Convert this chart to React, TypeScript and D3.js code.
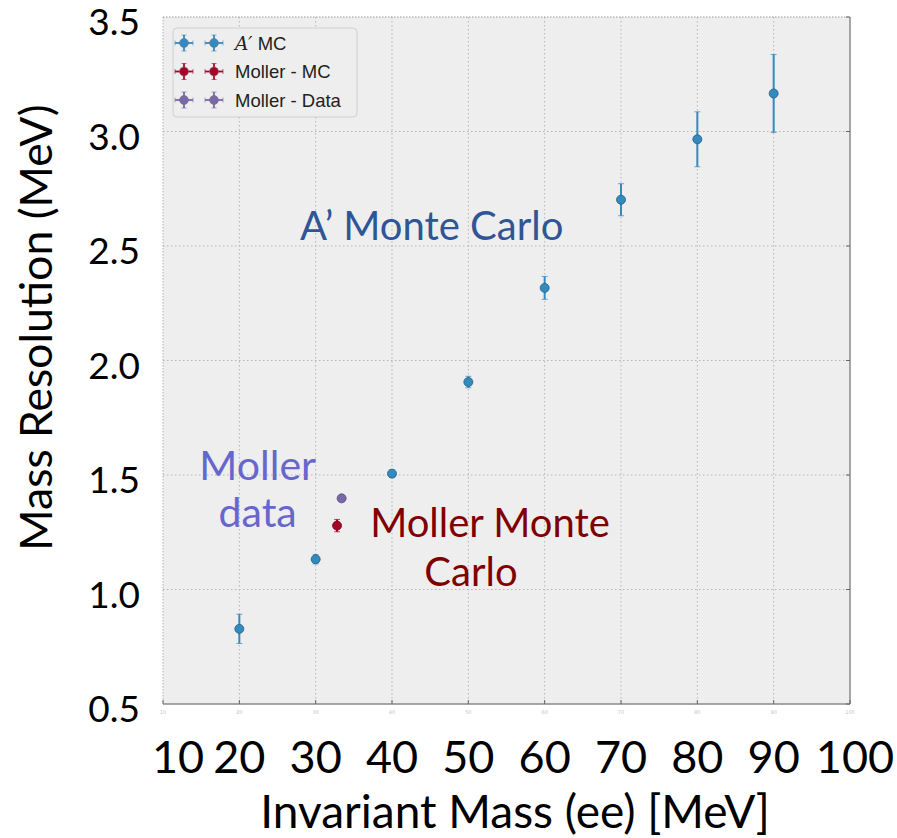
import React from 'react';
import * as d3 from 'd3';

// A' Monte Carlo points
const aMass = [20, 30, 40, 50, 60, 70, 80, 90];
const aRes = [0.828, 1.132, 1.506, 1.906, 2.317, 2.702, 2.966, 3.166];
const aErr = [0.064, 0.02, 0.016, 0.025, 0.05, 0.07, 0.12, 0.17];

// Moller
const mcMass = [32.8];
const mcRes = [1.279];
const mcErr = [0.027];
const dataMass = [33.4];
const dataRes = [1.398];
const dataErr = [0.006];

const xTicks = [10, 20, 30, 40, 50, 60, 70, 80, 90, 100];
const yTicks = [0.5, 1.0, 1.5, 2.0, 2.5, 3.0, 3.5];

const legendItems = [
  { label: 'MC', prime: true, color: '#348ABD' },
  { label: 'Moller - MC', prime: false, color: '#A60628' },
  { label: 'Moller - Data', prime: false, color: '#7A68A6' },
];

const W = 897, H = 838;
const plot = { left: 163, right: 850, top: 17, bottom: 704 };
const bigFont = "Lato, 'Open Sans', sans-serif";

export default function App() {
  const x = d3.scaleLinear().domain([10, 100]).range([plot.left, plot.right]);
  const y = d3.scaleLinear().domain([0.5, 3.5]).range([plot.bottom, plot.top]);

  const series = [
    { mass: aMass, res: aRes, err: aErr, color: '#348ABD', edge: '#1f5f88' },
    { mass: mcMass, res: mcRes, err: mcErr, color: '#A60628', edge: '#6e0419' },
    { mass: dataMass, res: dataRes, err: dataErr, color: '#7A68A6', edge: '#54477a' },
  ];

  return (
    <svg width={W} height={H} style={{ position: 'absolute', left: 0, top: 0, background: '#fff' }}>
      {/* plot background */}
      <rect x={plot.left} y={plot.top} width={plot.right - plot.left} height={plot.bottom - plot.top} fill="#eeeeee" />

      {/* grid */}
      {xTicks.slice(1, -1).map(t => (
        <line key={'gx' + t} x1={x(t)} x2={x(t)} y1={plot.top} y2={plot.bottom}
          stroke="#b5b5b5" strokeWidth={1} strokeDasharray="1.5,2.5" />
      ))}
      {yTicks.slice(1, -1).map(t => (
        <line key={'gy' + t} x1={plot.left} x2={plot.right} y1={y(t)} y2={y(t)}
          stroke="#b5b5b5" strokeWidth={1} strokeDasharray="1.5,2.5" />
      ))}

      {/* frame */}
      <line x1={plot.left} x2={plot.right} y1={plot.top} y2={plot.top} stroke="#9a9a9a" strokeWidth={1} strokeDasharray="1.5,1.5" />
      <line x1={plot.left} x2={plot.left} y1={plot.top} y2={plot.bottom} stroke="#b0b0b0" strokeWidth={1} strokeDasharray="1.5,1.5" />
      <line x1={plot.left} x2={plot.right} y1={plot.bottom} y2={plot.bottom} stroke="#8a8a8a" strokeWidth={1.5} />
      <line x1={plot.right} x2={plot.right} y1={plot.top} y2={plot.bottom} stroke="#8a8a8a" strokeWidth={1.5} />

      {/* tick marks */}
      {xTicks.map(t => (
        <line key={'tx' + t} x1={x(t)} x2={x(t)} y1={plot.bottom} y2={plot.bottom - 4} stroke="#666" strokeWidth={1} />
      ))}
      {yTicks.map(t => (
        <line key={'ty' + t} x1={plot.right} x2={plot.right - 4} y1={y(t)} y2={y(t)} stroke="#666" strokeWidth={1} />
      ))}
      {/* faint original tick labels */}
      {xTicks.map(t => (
        <text key={'tl' + t} x={x(t)} y={714} textAnchor="middle" fontSize={5} fill="#c4c4c4"
          fontFamily="'DejaVu Sans', sans-serif">{t}</text>
      ))}

      {/* data with error bars */}
      {series.map((s, si) => (
        <g key={'s' + si}>
          {s.mass.map((m, i) => {
            const cx = x(m), cy = y(s.res[i]);
            const y0 = y(s.res[i] - s.err[i]), y1 = y(s.res[i] + s.err[i]);
            return (
              <g key={i}>
                <line x1={cx} x2={cx} y1={y0} y2={y1} stroke={s.color} strokeWidth={2} />
                <line x1={cx - 3} x2={cx + 3} y1={y0} y2={y0} stroke={s.color} strokeWidth={1} opacity={0.7} />
                <line x1={cx - 3} x2={cx + 3} y1={y1} y2={y1} stroke={s.color} strokeWidth={1} opacity={0.7} />
                <circle cx={cx} cy={cy} r={4.5} fill={s.color} stroke={s.edge} strokeWidth={0.8} />
              </g>
            );
          })}
        </g>
      ))}

      {/* legend */}
      <g>
        <rect x={173} y={28} width={184} height={89} rx={4} fill="#eeeeee" stroke="#d0d0d0" strokeWidth={1} />
        {legendItems.map((it, i) => {
          const cy = 43 + i * 28.5;
          return (
            <g key={'lg' + i}>
              {[184, 214].map(cx => (
                <g key={cx}>
                  <line x1={cx - 9} x2={cx + 9} y1={cy} y2={cy} stroke={it.color} strokeWidth={1.8} />
                  <line x1={cx} x2={cx} y1={cy - 8} y2={cy + 8} stroke={it.color} strokeWidth={1.8} />
                  <line x1={cx - 2.5} x2={cx + 2.5} y1={cy - 8} y2={cy - 8} stroke={it.color} strokeWidth={1} opacity={0.6} />
                  <line x1={cx - 2.5} x2={cx + 2.5} y1={cy + 8} y2={cy + 8} stroke={it.color} strokeWidth={1} opacity={0.6} />
                  <line x1={cx - 9} x2={cx - 9} y1={cy - 2.5} y2={cy + 2.5} stroke={it.color} strokeWidth={1} opacity={0.6} />
                  <line x1={cx + 9} x2={cx + 9} y1={cy - 2.5} y2={cy + 2.5} stroke={it.color} strokeWidth={1} opacity={0.6} />
                  <circle cx={cx} cy={cy} r={4.5} fill={it.color} stroke="#777" strokeWidth={0.5} />
                </g>
              ))}
              <text x={235} y={cy + 6.5} fontSize={18.5} fontFamily="'Liberation Sans', Arial, sans-serif" fill="#222">
                {it.prime ? (
                  <>
                    <tspan fontFamily="'DejaVu Serif', serif" fontStyle="italic">A′</tspan>
                    <tspan> {it.label}</tspan>
                  </>
                ) : it.label}
              </text>
            </g>
          );
        })}
      </g>

      {/* annotations */}
      <text x={x(45.2)} y={y(2.526)} textAnchor="middle" fontSize={40} fontFamily={bigFont} fill="#2F5597">A’ Monte Carlo</text>
      <text x={x(22.4)} y={y(1.48)} textAnchor="middle" fontSize={41} fontFamily={bigFont} fill="#6666CC">Moller</text>
      <text x={x(22.4)} y={y(1.274)} textAnchor="middle" fontSize={41} fontFamily={bigFont} fill="#6666CC">data</text>
      <text x={x(52.84)} y={y(1.229)} textAnchor="middle" fontSize={40} fontFamily={bigFont} fill="#800000">Moller Monte</text>
      <text x={x(50.35)} y={y(1.015)} textAnchor="middle" fontSize={40} fontFamily={bigFont} fill="#800000">Carlo</text>

      {/* y tick labels */}
      {yTicks.map(t => (
        <text key={'yl' + t} x={140} y={y(t) + 18} textAnchor="end" fontSize={37} fontFamily={bigFont} fill="#000">
          {d3.format('.1f')(t)}
        </text>
      ))}
      {/* x tick labels */}
      {xTicks.map((t, i) => (
        <text key={'xl' + t} x={x(t) + (i === 0 ? 15 : i === xTicks.length - 1 ? 5 : 0)} y={773}
          textAnchor="middle" fontSize={45} fontFamily={bigFont} fill="#000">
          {t}
        </text>
      ))}

      {/* axis titles */}
      <text transform={`translate(52, ${(105 + 550) / 2}) rotate(-90)`} textAnchor="middle" fontSize={44.5} fontFamily={bigFont} fill="#000">
        Mass Resolution (MeV)
      </text>
      <text x={515} y={828} textAnchor="middle" fontSize={46} fontFamily={bigFont} fill="#000">
        Invariant Mass (ee) [MeV]
      </text>
    </svg>
  );
}
